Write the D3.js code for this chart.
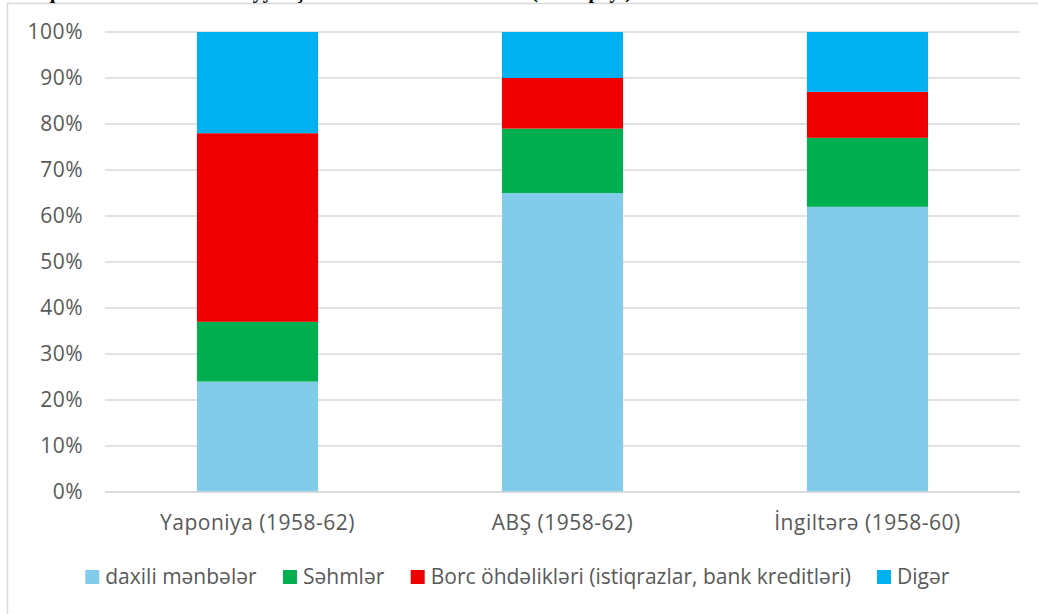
<!DOCTYPE html>
<html>
<head>
<meta charset="utf-8">
<script src="https://cdn.jsdelivr.net/npm/d3@7"></script>
<style>
  html, body { margin: 0; padding: 0; background: #fff; }
  svg { display: block; }
  text { font-family: "Open Sans", "Noto Sans", sans-serif; }
</style>
</head>
<body>
<svg id="chart" width="1038" height="614"></svg>
<script>
// Funding sources by country, share of total (%)
const categories = ["Yaponiya (1958-62)", "ABŞ (1958-62)", "İngiltərə (1958-60)"];
const seriesNames = ["daxili mənbələr", "Səhmlər", "Borc öhdəlikləri (istiqrazlar, bank kreditləri)", "Digər"];
const daxiliMenbeler = [24, 65, 62];
const sehmler = [13, 14, 15];
const borcOhdelikleri = [41, 11, 10];
const diger = [22, 10, 13];
const yTicks = [0, 10, 20, 30, 40, 50, 60, 70, 80, 90, 100];
const titleText = "Diaqram 1. Firmaların maliyyələşmə mənbələri ölkələr üzrə (faizlə payı)";

const colors = ["#83CBEB", "#00B050", "#EE0000", "#00B0F0"];
const seriesValues = [daxiliMenbeler, sehmler, borcOhdelikleri, diger];

const rows = categories.map((c, i) => {
  const r = { category: c };
  seriesNames.forEach((s, k) => { r[s] = seriesValues[k][i]; });
  return r;
});

const svg = d3.select("#chart");
const labelFont = "21px";
const axisSpacing = "0.5px";

// Chart frame
svg.append("rect")
  .attr("x", 7.5).attr("y", 3.5)
  .attr("width", 1040).attr("height", 620)
  .attr("fill", "#fff").attr("stroke", "#d9d9d9").attr("stroke-width", 1.5);

// Title line above the frame (only its lowest strokes fall inside the view)
svg.append("text")
  .attr("x", 14).attr("y", -2)
  .style("font-family", "'Liberation Serif', serif")
  .style("font-weight", "bold")
  .style("font-size", "20px")
  .attr("fill", "#000")
  .text(titleText);

const plot = { left: 105, right: 1020, top: 32, bottom: 492 };

const x = d3.scaleBand()
  .domain(categories)
  .range([plot.left, plot.right])
  .paddingInner(0.603)
  .paddingOuter(0.3015);

const y = d3.scaleLinear()
  .domain([0, 100])
  .range([plot.bottom, plot.top]);

// Gridlines
svg.append("g")
  .selectAll("line")
  .data(yTicks)
  .join("line")
  .attr("x1", plot.left).attr("x2", plot.right)
  .attr("y1", d => y(d)).attr("y2", d => y(d))
  .attr("stroke", "#d9d9d9").attr("stroke-width", 1.5);

// Y axis labels
const yAxis = d3.axisLeft(y).tickValues(yTicks).tickFormat(d => d + "%").tickSize(0).tickPadding(22);
const gy = svg.append("g").attr("transform", `translate(${plot.left},0)`).call(yAxis);
gy.select(".domain").remove();
gy.selectAll("text")
  .attr("fill", "#595959")
  .style("font-size", labelFont)
  .style("letter-spacing", axisSpacing)
  .style("font-family", "'Open Sans', sans-serif");

// Stacked bars
const stacked = d3.stack().keys(seriesNames)(rows);

svg.append("g")
  .selectAll("g")
  .data(stacked)
  .join("g")
  .attr("fill", (d, i) => colors[i])
  .selectAll("rect")
  .data(d => d)
  .join("rect")
  .attr("x", d => x(d.data.category))
  .attr("width", x.bandwidth())
  .attr("y", d => y(d[1]))
  .attr("height", d => y(d[0]) - y(d[1]));

// X axis labels
const xAxis = d3.axisBottom(x).tickSize(0).tickPadding(23);
const gx = svg.append("g").attr("transform", `translate(0,${plot.bottom})`).call(xAxis);
gx.select(".domain").remove();
gx.selectAll("text")
  .attr("fill", "#595959")
  .style("font-size", labelFont)
  .style("letter-spacing", axisSpacing)
  .style("font-family", "'Open Sans', sans-serif");

// Baseline drawn over bars
svg.append("line")
  .attr("x1", plot.left).attr("x2", plot.right)
  .attr("y1", y(0)).attr("y2", y(0))
  .attr("stroke", "#d9d9d9").attr("stroke-width", 1.5);

// Legend
const legend = svg.append("g");
const sw = 14, gapText = 6, gapItem = 26;
const items = legend.selectAll("g")
  .data(seriesNames)
  .join("g");
items.append("rect")
  .attr("width", sw).attr("height", sw)
  .attr("y", -sw / 2)
  .attr("fill", (d, i) => colors[i]);
items.append("text")
  .attr("x", sw + gapText)
  .attr("dy", "0.35em")
  .attr("fill", "#595959")
  .style("font-size", labelFont)
  .text(d => d);
const widths = [];
items.each(function () { widths.push(this.getBBox().width); });
const total = d3.sum(widths) + gapItem * (widths.length - 1);
let cx = (86 + 949) / 2 - total / 2;
items.attr("transform", (d, i) => {
  const t = `translate(${cx},577)`;
  cx += widths[i] + gapItem;
  return t;
});
</script>
</body>
</html>
